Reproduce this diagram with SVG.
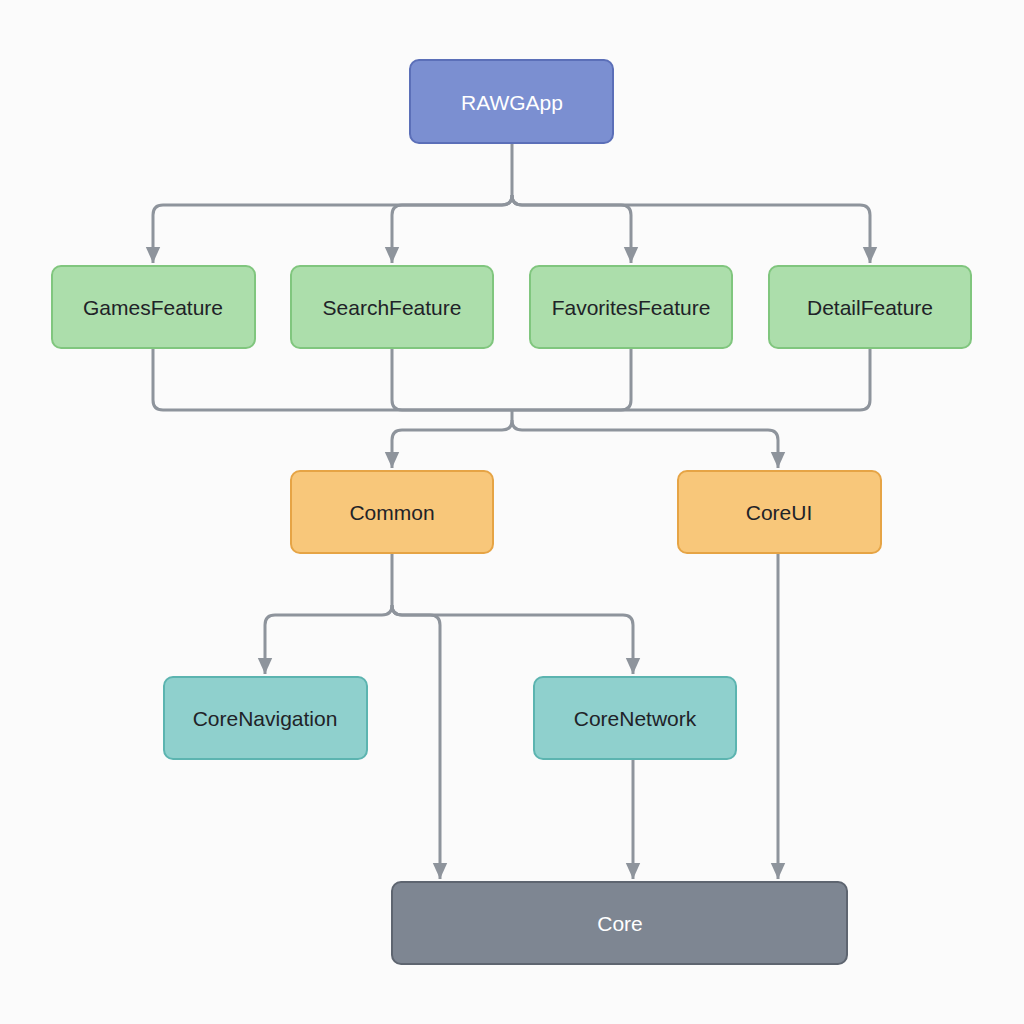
<svg xmlns="http://www.w3.org/2000/svg" width="1024" height="1024" viewBox="0 0 1024 1024">
<style>
.n{stroke-width:2}
.t{font-family:"Liberation Sans",Arial,sans-serif;font-size:21px;text-anchor:middle;dominant-baseline:central;fill:#1f2328}
.w{fill:#ffffff}
.c{fill:none;stroke:#8e949c;stroke-width:3;stroke-linejoin:round}
.app{fill:#7b8fd1;stroke:#5b6fb8}
.f{fill:#acdeab;stroke:#80c67e}
.m{fill:#f8c77a;stroke:#e6a445}
.cn{fill:#8fd0cd;stroke:#5cb4b0}
.core{fill:#7e8692;stroke:#5e6570}
</style>
<defs>
<marker id="a" viewBox="0 0 10 10" refX="10" refY="5" markerWidth="16" markerHeight="16" markerUnits="userSpaceOnUse" orient="auto">
<path d="M0,0.5 L10,5 L0,9.5 z" fill="#8e949c"/>
</marker>
</defs>
<rect width="1024" height="1024" fill="#fbfbfb"/>
<g id="connectors">
<path class="c" d="M512,143 V195 Q512,205 502,205 H163 Q153,205 153,215 V263" marker-end="url(#a)"/>
<path class="c" d="M512,195 Q512,205 502,205 H402 Q392,205 392,215 V263" marker-end="url(#a)"/>
<path class="c" d="M512,195 Q512,205 522,205 H621 Q631,205 631,215 V263" marker-end="url(#a)"/>
<path class="c" d="M512,195 Q512,205 522,205 H860 Q870,205 870,215 V263" marker-end="url(#a)"/>
<path class="c" d="M153,348 V400 Q153,410 163,410 H860 Q870,410 870,400 V348"/>
<path class="c" d="M392,348 V400 Q392,410 402,410 H621 Q631,410 631,400 V348"/>
<path class="c" d="M512,410 V420 Q512,430 502,430 H402 Q392,430 392,440 V468" marker-end="url(#a)"/>
<path class="c" d="M512,420 Q512,430 522,430 H768 Q778,430 778,440 V468" marker-end="url(#a)"/>
<path class="c" d="M392,553 V605 Q392,615 382,615 H275 Q265,615 265,625 V674" marker-end="url(#a)"/>
<path class="c" d="M392,605 Q392,615 402,615 H623 Q633,615 633,625 V674" marker-end="url(#a)"/>
<path class="c" d="M392,605 Q392,615 402,615 H430 Q440,615 440,625 V879" marker-end="url(#a)"/>
<path class="c" d="M633,759 V879" marker-end="url(#a)"/>
<path class="c" d="M778,553 V879" marker-end="url(#a)"/>
</g>
<g id="RAWGApp"><rect class="n app" x="410" y="60" width="203" height="83" rx="9"/><text class="t w" x="512" y="102">RAWGApp</text></g>
<g id="GamesFeature"><rect class="n f" x="52" y="266" width="203" height="82" rx="9"/><text class="t" x="153" y="307">GamesFeature</text></g>
<g id="SearchFeature"><rect class="n f" x="291" y="266" width="202" height="82" rx="9"/><text class="t" x="392" y="307">SearchFeature</text></g>
<g id="FavoritesFeature"><rect class="n f" x="530" y="266" width="202" height="82" rx="9"/><text class="t" x="631" y="307">FavoritesFeature</text></g>
<g id="DetailFeature"><rect class="n f" x="769" y="266" width="202" height="82" rx="9"/><text class="t" x="870" y="307">DetailFeature</text></g>
<g id="Common"><rect class="n m" x="291" y="471" width="202" height="82" rx="9"/><text class="t" x="392" y="512">Common</text></g>
<g id="CoreUI"><rect class="n m" x="678" y="471" width="203" height="82" rx="9"/><text class="t" x="779" y="512">CoreUI</text></g>
<g id="CoreNavigation"><rect class="n cn" x="164" y="677" width="203" height="82" rx="9"/><text class="t" x="265" y="718">CoreNavigation</text></g>
<g id="CoreNetwork"><rect class="n cn" x="534" y="677" width="202" height="82" rx="9"/><text class="t" x="635" y="718">CoreNetwork</text></g>
<g id="Core"><rect class="n core" x="392" y="882" width="455" height="82" rx="9"/><text class="t w" x="620" y="923">Core</text></g>
</svg>
